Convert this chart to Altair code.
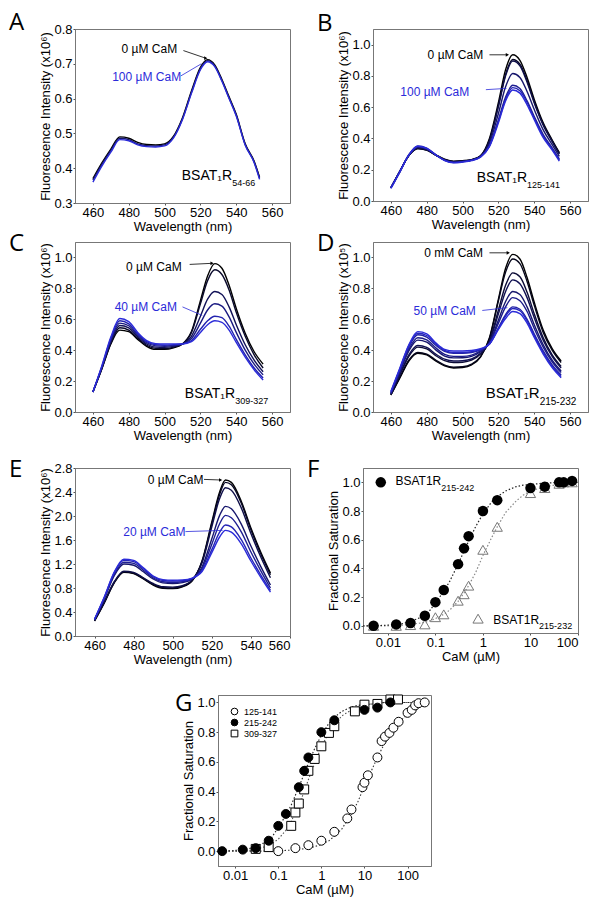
import altair as alt
import pandas as pd

FONT = "Liberation Sans"
LETTER_FONT = "Open Sans"
BLUE = "#2b2bd9"
PW = 215

# ---------------- data: spectra ----------------
A_wl = [460, 465, 470, 475, 480, 485, 490, 495, 500, 505, 510, 515, 520, 524, 528, 532, 536, 540, 545, 550, 553]
A_names = ["0 µM", "50 µM", "100 µM"]
A_vals = [
    [0.370, 0.415, 0.455, 0.490, 0.486, 0.474, 0.468, 0.467, 0.470, 0.492, 0.545, 0.622, 0.690, 0.712, 0.697, 0.655, 0.605, 0.555, 0.470, 0.420, 0.374],
    [0.366, 0.411, 0.451, 0.486, 0.482, 0.470, 0.465, 0.464, 0.467, 0.489, 0.542, 0.618, 0.686, 0.709, 0.694, 0.652, 0.602, 0.552, 0.468, 0.418, 0.372],
    [0.360, 0.406, 0.446, 0.482, 0.479, 0.467, 0.462, 0.461, 0.464, 0.487, 0.540, 0.615, 0.683, 0.706, 0.692, 0.650, 0.600, 0.550, 0.466, 0.416, 0.368],
]

B_wl = [460, 465, 470, 475, 480, 485, 490, 495, 500, 505, 510, 515, 520, 524, 528, 532, 536, 540, 545, 550, 554]
B_names = ["b0", "b1", "b2", "b3", "b4", "b5", "b6"]
B_vals = [
    [0.085, 0.19, 0.29, 0.335, 0.325, 0.295, 0.268, 0.255, 0.258, 0.265, 0.29, 0.40, 0.63, 0.84, 0.935, 0.90, 0.79, 0.65, 0.50, 0.39, 0.31],
    [0.085, 0.19, 0.29, 0.335, 0.325, 0.293, 0.265, 0.252, 0.255, 0.263, 0.288, 0.39, 0.61, 0.81, 0.905, 0.875, 0.77, 0.635, 0.49, 0.385, 0.305],
    [0.085, 0.19, 0.29, 0.338, 0.327, 0.293, 0.264, 0.251, 0.254, 0.262, 0.287, 0.385, 0.605, 0.80, 0.895, 0.865, 0.76, 0.627, 0.485, 0.38, 0.30],
    [0.085, 0.19, 0.292, 0.343, 0.331, 0.294, 0.262, 0.249, 0.253, 0.262, 0.285, 0.37, 0.56, 0.73, 0.815, 0.79, 0.70, 0.585, 0.455, 0.36, 0.285],
    [0.085, 0.19, 0.295, 0.348, 0.335, 0.296, 0.261, 0.247, 0.252, 0.261, 0.283, 0.355, 0.52, 0.665, 0.74, 0.72, 0.64, 0.54, 0.425, 0.34, 0.27],
    [0.085, 0.19, 0.296, 0.352, 0.338, 0.297, 0.26, 0.246, 0.251, 0.26, 0.282, 0.352, 0.51, 0.65, 0.725, 0.705, 0.63, 0.53, 0.415, 0.333, 0.262],
    [0.08, 0.185, 0.293, 0.35, 0.336, 0.295, 0.258, 0.244, 0.249, 0.258, 0.28, 0.348, 0.50, 0.64, 0.71, 0.69, 0.615, 0.52, 0.405, 0.325, 0.255],
]

C_wl = [460, 465, 470, 475, 480, 485, 490, 495, 500, 505, 510, 515, 520, 524, 528, 532, 536, 540, 545, 550, 555]
C_names = ["c0", "c1", "c2", "c3", "c4", "c5"]
C_vals = [
    [0.13, 0.28, 0.44, 0.53, 0.52, 0.47, 0.425, 0.405, 0.405, 0.415, 0.44, 0.52, 0.72, 0.88, 0.96, 0.93, 0.82, 0.67, 0.51, 0.39, 0.31],
    [0.13, 0.28, 0.445, 0.545, 0.53, 0.478, 0.432, 0.412, 0.41, 0.42, 0.44, 0.515, 0.70, 0.85, 0.92, 0.89, 0.79, 0.645, 0.49, 0.37, 0.285],
    [0.13, 0.285, 0.455, 0.56, 0.545, 0.488, 0.44, 0.42, 0.418, 0.425, 0.44, 0.49, 0.62, 0.73, 0.78, 0.76, 0.68, 0.565, 0.435, 0.335, 0.26],
    [0.13, 0.29, 0.465, 0.575, 0.558, 0.497, 0.448, 0.428, 0.425, 0.43, 0.44, 0.475, 0.575, 0.66, 0.70, 0.685, 0.615, 0.515, 0.40, 0.31, 0.24],
    [0.13, 0.295, 0.475, 0.59, 0.57, 0.505, 0.455, 0.435, 0.432, 0.435, 0.44, 0.462, 0.535, 0.59, 0.62, 0.61, 0.555, 0.47, 0.37, 0.285, 0.22],
    [0.13, 0.30, 0.485, 0.605, 0.585, 0.515, 0.462, 0.442, 0.44, 0.44, 0.44, 0.455, 0.515, 0.565, 0.59, 0.58, 0.53, 0.45, 0.355, 0.273, 0.207],
]

D_wl = [460, 465, 470, 475, 480, 485, 490, 495, 500, 505, 510, 515, 520, 524, 528, 532, 536, 540, 545, 550, 555]
D_names = ["d0", "d1", "d2", "d3", "d4", "d5", "d6", "d7", "d8"]
D_vals = [
    [0.11, 0.22, 0.33, 0.38, 0.37, 0.33, 0.298, 0.285, 0.288, 0.305, 0.355, 0.48, 0.73, 0.93, 1.02, 0.99, 0.87, 0.71, 0.53, 0.41, 0.33],
    [0.11, 0.225, 0.335, 0.385, 0.375, 0.336, 0.303, 0.29, 0.293, 0.31, 0.358, 0.475, 0.72, 0.905, 0.99, 0.96, 0.845, 0.69, 0.515, 0.40, 0.32],
    [0.115, 0.24, 0.36, 0.42, 0.408, 0.365, 0.332, 0.32, 0.322, 0.335, 0.375, 0.46, 0.66, 0.82, 0.90, 0.875, 0.775, 0.635, 0.48, 0.37, 0.295],
    [0.115, 0.245, 0.37, 0.43, 0.418, 0.375, 0.342, 0.33, 0.332, 0.343, 0.38, 0.455, 0.635, 0.78, 0.855, 0.83, 0.74, 0.61, 0.465, 0.36, 0.285],
    [0.12, 0.26, 0.395, 0.465, 0.452, 0.402, 0.362, 0.35, 0.351, 0.36, 0.39, 0.448, 0.595, 0.715, 0.78, 0.76, 0.68, 0.565, 0.435, 0.335, 0.265],
    [0.12, 0.265, 0.405, 0.48, 0.466, 0.415, 0.373, 0.36, 0.36, 0.368, 0.395, 0.445, 0.575, 0.68, 0.74, 0.72, 0.65, 0.54, 0.42, 0.325, 0.255],
    [0.125, 0.275, 0.42, 0.50, 0.485, 0.432, 0.392, 0.38, 0.38, 0.385, 0.402, 0.44, 0.545, 0.63, 0.68, 0.665, 0.60, 0.505, 0.395, 0.305, 0.24],
    [0.13, 0.28, 0.43, 0.51, 0.495, 0.44, 0.398, 0.385, 0.385, 0.39, 0.405, 0.44, 0.54, 0.62, 0.67, 0.655, 0.59, 0.495, 0.385, 0.295, 0.23],
    [0.135, 0.285, 0.435, 0.52, 0.505, 0.448, 0.405, 0.395, 0.395, 0.398, 0.41, 0.44, 0.535, 0.605, 0.65, 0.637, 0.575, 0.482, 0.375, 0.287, 0.222],
]

E_wl = [460, 465, 470, 475, 480, 485, 490, 495, 500, 505, 510, 515, 520, 524, 527, 530, 535, 540, 545, 550]
E_names = ["e0", "e1", "e2", "e3", "e4", "e5", "e6"]
E_vals = [
    [0.25, 0.55, 0.88, 1.06, 1.04, 0.95, 0.85, 0.795, 0.79, 0.82, 0.92, 1.25, 1.90, 2.40, 2.60, 2.56, 2.25, 1.80, 1.40, 1.05],
    [0.25, 0.56, 0.89, 1.07, 1.05, 0.96, 0.86, 0.805, 0.80, 0.83, 0.93, 1.24, 1.87, 2.36, 2.56, 2.52, 2.22, 1.77, 1.37, 1.02],
    [0.26, 0.57, 0.90, 1.08, 1.06, 0.97, 0.875, 0.82, 0.815, 0.84, 0.935, 1.22, 1.82, 2.29, 2.47, 2.43, 2.14, 1.71, 1.32, 0.97],
    [0.27, 0.62, 1.00, 1.20, 1.18, 1.07, 0.95, 0.885, 0.875, 0.89, 0.95, 1.15, 1.62, 2.01, 2.16, 2.12, 1.87, 1.50, 1.16, 0.85],
    [0.27, 0.63, 1.02, 1.23, 1.21, 1.095, 0.97, 0.905, 0.895, 0.905, 0.955, 1.12, 1.53, 1.87, 2.01, 1.97, 1.74, 1.40, 1.09, 0.80],
    [0.28, 0.645, 1.05, 1.26, 1.24, 1.12, 0.99, 0.925, 0.915, 0.92, 0.96, 1.09, 1.44, 1.73, 1.85, 1.82, 1.61, 1.30, 1.02, 0.76],
    [0.28, 0.65, 1.06, 1.28, 1.26, 1.135, 1.00, 0.94, 0.93, 0.935, 0.965, 1.075, 1.39, 1.65, 1.76, 1.73, 1.54, 1.25, 0.98, 0.73],
]

# ---------------- data: titrations ----------------
F_black_conc = [0.005, 0.015, 0.03, 0.06, 0.1, 0.15, 0.3, 0.4, 0.5, 1, 2, 10, 20, 40, 50, 75]
F_black_sat = [0.0, 0.01, 0.02, 0.07, 0.165, 0.25, 0.43, 0.54, 0.625, 0.80, 0.876, 0.96, 0.97, 1.0, 1.0, 1.01]
F_tri_conc = [0.005, 0.015, 0.03, 0.06, 0.1, 0.15, 0.3, 0.4, 0.5, 1, 2, 10, 20, 40, 50, 75]
F_tri_sat = [0.0, 0.0, 0.005, 0.01, 0.06, 0.08, 0.175, 0.22, 0.28, 0.53, 0.69, 0.925, 0.96, 0.99, 1.0, 1.0]
F_fit_x = [0.003, 0.005, 0.01, 0.02, 0.03, 0.05, 0.07, 0.1, 0.15, 0.2, 0.3, 0.4, 0.5, 0.7, 1, 1.5, 2, 3, 5, 7, 10, 20, 50, 100]
F_fit_black = [0.0, 0.0, 0.005, 0.015, 0.03, 0.06, 0.09, 0.16, 0.24, 0.31, 0.43, 0.52, 0.59, 0.69, 0.78, 0.86, 0.90, 0.94, 0.97, 0.98, 0.985, 0.995, 1.0, 1.0]
F_fit_tri = [0.0, 0.0, 0.0, 0.005, 0.01, 0.02, 0.03, 0.05, 0.08, 0.11, 0.17, 0.23, 0.28, 0.37, 0.49, 0.61, 0.69, 0.79, 0.87, 0.91, 0.94, 0.97, 0.99, 1.0]

G_125_conc = [0.1, 0.25, 0.5, 1, 2, 4, 5, 9, 10, 12, 20, 25, 30, 38, 47, 62, 100, 125, 150, 180, 250]
G_125_sat = [0.0, 0.02, 0.04, 0.07, 0.13, 0.22, 0.28, 0.43, 0.46, 0.51, 0.63, 0.74, 0.77, 0.795, 0.83, 0.87, 0.93, 0.95, 0.98, 0.995, 1.0]
G_215_conc = [0.005, 0.015, 0.03, 0.06, 0.1, 0.15, 0.3, 0.4, 0.5, 1, 2, 10, 20, 40]
G_215_sat = [0.0, 0.01, 0.02, 0.07, 0.17, 0.25, 0.43, 0.54, 0.63, 0.80, 0.88, 0.95, 0.965, 1.0]
G_309_conc = [0.03, 0.06, 0.2, 0.25, 0.3, 0.4, 0.5, 0.7, 1, 1.5, 2, 6, 10, 20, 40, 60]
G_309_sat = [0.015, 0.027, 0.17, 0.26, 0.32, 0.415, 0.54, 0.62, 0.705, 0.795, 0.84, 0.94, 0.985, 0.99, 1.02, 1.02]
G_fit_x = [0.004, 0.01, 0.02, 0.03, 0.05, 0.07, 0.1, 0.15, 0.2, 0.3, 0.4, 0.5, 0.7, 1, 1.5, 2, 3, 5, 7, 10, 15, 20, 30, 50, 70, 100, 150, 200, 300]
G_fit_215 = [0.0, 0.005, 0.015, 0.03, 0.06, 0.09, 0.16, 0.24, 0.31, 0.43, 0.52, 0.59, 0.69, 0.78, 0.86, 0.90, 0.94, 0.97, 0.98, 0.985, 0.99, 0.995, 1.0, 1.0, 1.0, 1.0, 1.0, 1.0, 1.0]
G_fit_309 = [0.0, 0.0, 0.005, 0.012, 0.03, 0.05, 0.08, 0.14, 0.20, 0.31, 0.40, 0.48, 0.59, 0.70, 0.80, 0.85, 0.91, 0.95, 0.97, 0.98, 0.99, 0.995, 1.0, 1.0, 1.0, 1.0, 1.0, 1.0, 1.0]
G_fit_125 = [0.0, 0.0, 0.0, 0.0, 0.0, 0.0, 0.003, 0.005, 0.007, 0.012, 0.016, 0.02, 0.03, 0.045, 0.07, 0.10, 0.15, 0.25, 0.33, 0.44, 0.55, 0.63, 0.73, 0.83, 0.88, 0.92, 0.955, 0.97, 0.985]
G_series = ["125-141", "215-242", "309-327"]


def ramp(n, end=(43, 43, 217)):
    out = []
    for i in range(n):
        f = i / (n - 1)
        out.append("#%02x%02x%02x" % tuple(int(round(e * f)) for e in end))
    return out


def long_df(wl, names, vals):
    rows = []
    for name, vs in zip(names, vals):
        for w, v in zip(wl, vs):
            rows.append({"wl": w, "v": v, "c": name})
    return pd.DataFrame(rows)


def txt(x, y, s, xf="wl", yf="v", color="black", size=12, align="center", baseline="middle"):
    d = pd.DataFrame({xf: [x], yf: [y], "t": [s]})
    return alt.Chart(d).mark_text(align=align, baseline=baseline, fontSize=size, color=color,
                                  font=FONT).encode(x=f"{xf}:Q", y=f"{yf}:Q", text="t:N")


def seg(x1, y1, x2, y2, color="black", arrow=False):
    d = pd.DataFrame({"wl": [x1], "v": [y1], "wl2": [x2], "v2": [y2]})
    r = alt.Chart(d).mark_rule(color=color, strokeWidth=0.8).encode(
        x="wl:Q", y="v:Q", x2="wl2:Q", y2="v2:Q")
    if arrow:
        a = alt.Chart(pd.DataFrame({"wl": [x2], "v": [y2]})).mark_point(
            shape="triangle-right", filled=True, color=color, size=14, opacity=1).encode(x="wl:Q", y="v:Q")
        return r + a
    return r


def letter(s, x, y):
    return alt.Chart(pd.DataFrame({"t": [s]})).mark_text(
        align="left", baseline="alphabetic", fontSize=24, font=LETTER_FONT, color="black").encode(
        x=alt.value(x), y=alt.value(y), text="t:N")


def yaxis(vals, title, fmt=".1f"):
    return alt.Axis(values=vals, format=fmt, title=title, labelOverlap=False, tickCount=30)


def spectra(wl, names, vals, xdom, ydom, yvals, ytitle, ann, lt, lty, H):
    df = long_df(wl, names, vals)
    xticks = [460, 480, 500, 520, 540, 560]
    lines = alt.Chart(df).mark_line(interpolate="monotone", strokeWidth=1.4).encode(
        x=alt.X("wl:Q", scale=alt.Scale(domain=xdom, nice=False, zero=False),
                axis=alt.Axis(values=xticks, title="Wavelength (nm)", format="d", labelOverlap=False, tickCount=30)),
        y=alt.Y("v:Q", scale=alt.Scale(domain=ydom, nice=False, zero=False), axis=yaxis(yvals, ytitle)),
        color=alt.Color("c:N", scale=alt.Scale(domain=names, range=ramp(len(names))), legend=None),
    )
    return alt.layer(lines, *ann, letter(lt, -66 if lt in "ACE" else -56, lty)).properties(width=PW, height=H)


def indep(c):
    return c.resolve_scale(color="independent", fill="independent", shape="independent",
                           stroke="independent").resolve_legend(
        color="independent", fill="independent", shape="independent", stroke="independent")


# ---------------- panels ----------------
pA = spectra(A_wl, A_names, A_vals, [450, 570], [0.3, 0.8], [0.3, 0.4, 0.5, 0.6, 0.7, 0.8],
             "Fluorescence Intensity (x10⁶)",
             [txt(491.5, 0.742, "0 µM CaM"), seg(510.5, 0.738, 523, 0.716, arrow=True),
              txt(490, 0.661, "100 µM CaM", color=BLUE), seg(509, 0.665, 520.5, 0.70, color=BLUE),
              txt(537.7, 0.377, "BSAT₁R", size=14, align="right"),
              txt(537.7, 0.357, "54-66", size=9, align="left")],
             "A", 1, 174)

pB = spectra(B_wl, B_names, B_vals, [450, 570], [0, 1.1], [0, 0.2, 0.4, 0.6, 0.8, 1.0],
             "Fluorescence Intensity (x10⁶)",
             [txt(496, 0.936, "0 µM CaM"), seg(515, 0.935, 525, 0.935, arrow=True),
              txt(484.5, 0.70, "100 µM CaM", color=BLUE), seg(513, 0.712, 524.5, 0.72, color=BLUE),
              txt(536, 0.145, "BSAT₁R", size=14, align="right"),
              txt(536, 0.10, "125-141", size=9, align="left")],
             "B", 2, 172)

pC = spectra(C_wl, C_names, C_vals, [450, 570], [0, 1.1], [0, 0.2, 0.4, 0.6, 0.8, 1.0],
             "Fluorescence Intensity (x10⁶)",
             [txt(494, 0.94, "0 µM CaM"), seg(514, 0.955, 526.5, 0.962, arrow=True),
              txt(489.5, 0.68, "40 µM CaM", color=BLUE), seg(510, 0.68, 521, 0.625, color=BLUE),
              txt(539.4, 0.119, "BSAT₁R", size=14, align="right"),
              txt(539.4, 0.07, "309-327", size=9, align="left")],
             "C", 9, 170)

pD = spectra(D_wl, D_names, D_vals, [450, 570], [0, 1.1], [0, 0.2, 0.4, 0.6, 0.8, 1.0],
             "Fluorescence Intensity (x10⁵)",
             [txt(495, 1.026, "0 mM CaM"), seg(515, 1.03, 525.5, 1.03, arrow=True),
              txt(490, 0.652, "50 µM CaM", color=BLUE), seg(511, 0.657, 525, 0.675, color=BLUE),
              txt(543, 0.12, "BSAT₁R", size=15, align="right"),
              txt(543, 0.065, "215-232", size=10, align="left")],
             "D", 9, 170)

pE = spectra(E_wl, E_names, E_vals, [450, 560], [0, 2.8], [0, 0.4, 0.8, 1.2, 1.6, 2.0, 2.4, 2.8],
             "Fluorescence Intensity (x10⁶)",
             [txt(501.5, 2.605, "0 µM CaM"), seg(516, 2.61, 524.5, 2.60, arrow=True),
              txt(490.6, 1.74, "20 µM CaM", color=BLUE), seg(506.5, 1.74, 525.5, 1.76, color=BLUE)],
             "E", 9, 168)

# ---- F ----
logticks = [0.01, 0.1, 1, 10, 100]
sat_ticks = [0, 0.2, 0.4, 0.6, 0.8, 1.0]
fx_scale = alt.Scale(type="log", domain=[0.003, 100], nice=False)
fy_scale = alt.Scale(domain=[-0.05, 1.1], nice=False, zero=False)
fX = alt.X("c:Q", scale=fx_scale, axis=alt.Axis(values=logticks, format="~g", title="CaM (µM)",
                                                 labelOverlap=False, tickCount=30))
f_fit = pd.DataFrame({"c": F_fit_x, "s1": F_fit_black, "s2": F_fit_tri})
fit_tri = alt.Chart(f_fit).mark_line(color="#888888", strokeDash=[1.5, 2], strokeWidth=1.2).encode(
    x=fX, y=alt.Y("s2:Q", scale=fy_scale, axis=yaxis(sat_ticks, "Fractional Saturation")))
fit_blk = alt.Chart(f_fit).mark_line(color="#222222", strokeDash=[1.5, 2], strokeWidth=1.2).encode(x="c:Q", y="s1:Q")
tri = alt.Chart(pd.DataFrame({"c": F_tri_conc, "s": F_tri_sat})).mark_point(
    shape="triangle-up", size=105, color="#777777", strokeWidth=1, opacity=1).encode(x="c:Q", y="s:Q")
blk = alt.Chart(pd.DataFrame({"c": F_black_conc, "s": F_black_sat})).mark_point(
    shape="circle", size=110, filled=True, color="black", opacity=1).encode(x="c:Q", y="s:Q")
f_leg1 = alt.Chart(pd.DataFrame({"c": [0.0071], "s": [1.0]})).mark_point(
    shape="circle", size=110, filled=True, color="black", opacity=1).encode(x="c:Q", y="s:Q")
f_leg2 = alt.Chart(pd.DataFrame({"c": [0.79], "s": [0.05]})).mark_point(
    shape="triangle-up", size=105, color="#777777", strokeWidth=1, opacity=1).encode(x="c:Q", y="s:Q")
pF = alt.layer(
    fit_tri, fit_blk, tri, blk, f_leg1, f_leg2,
    txt(0.133, 1.007, "BSAT1R", xf="c", yf="s", align="right"),
    txt(0.133, 0.958, "215-242", xf="c", yf="s", size=9, align="left"),
    txt(15.2, 0.042, "BSAT1R", xf="c", yf="s", align="right"),
    txt(15.2, 0.0, "215-232", xf="c", yf="s", size=9, align="left"),
    letter("F", -56, 9),
).properties(width=PW, height=165)

# ---- G ----
gx_scale = alt.Scale(type="log", domain=[0.004, 350], nice=False)
gy_scale = alt.Scale(domain=[-0.1, 1.05], nice=False, zero=False)
gX = alt.X("c:Q", scale=gx_scale, axis=alt.Axis(values=logticks, format="~g", title="CaM (µM)",
                                                 labelOverlap=False, tickCount=30))
g_fit = pd.DataFrame({"c": G_fit_x, "a": G_fit_125, "b": G_fit_215, "d": G_fit_309})
gf1 = alt.Chart(g_fit).mark_line(color="#333333", strokeDash=[1.5, 2], strokeWidth=1.1).encode(
    x=gX, y=alt.Y("a:Q", scale=gy_scale, axis=yaxis(sat_ticks, "Fractional Saturation")))
gf2 = alt.Chart(g_fit).mark_line(color="#222222", strokeDash=[1.5, 2], strokeWidth=1.1).encode(x="c:Q", y="b:Q")
gf3 = alt.Chart(g_fit).mark_line(color="#555555", strokeDash=[1.5, 2], strokeWidth=1.1).encode(x="c:Q", y="d:Q")
gpts = pd.concat([
    pd.DataFrame({"c": G_125_conc, "s": G_125_sat, "series": G_series[0]}),
    pd.DataFrame({"c": G_309_conc, "s": G_309_sat, "series": G_series[2]}),
    pd.DataFrame({"c": G_215_conc, "s": G_215_sat, "series": G_series[1]}),
])
gleg = alt.Legend(orient="top-left", title=None, offset=12, padding=0, labelFontSize=9, labelFont=FONT,
                  symbolSize=45, rowPadding=0, symbolStrokeWidth=1, labelOffset=5)
gp = alt.Chart(gpts).mark_point(size=80, strokeWidth=1, opacity=1, fillOpacity=1).encode(
    x="c:Q", y="s:Q",
    fill=alt.Fill("series:N", scale=alt.Scale(domain=G_series, range=["white", "black", "white"]), legend=gleg),
    stroke=alt.Stroke("series:N", scale=alt.Scale(domain=G_series, range=["black", "black", "black"]), legend=gleg),
    shape=alt.Shape("series:N", scale=alt.Scale(domain=G_series, range=["circle", "circle", "square"]), legend=gleg),
)
pG = alt.layer(gf1, gf2, gf3, gp, letter("G", -43, 16)).properties(width=213, height=171)

spacer = alt.Chart(pd.DataFrame({"a": [0]})).mark_point(opacity=0).encode(
    x=alt.value(0), y=alt.value(0)).properties(width=59, height=10, view=alt.ViewBackground(stroke=None))

row1 = indep(alt.hconcat(pA, pB, spacing=25))
row2 = indep(alt.hconcat(pC, pD, spacing=25))
row3 = indep(alt.hconcat(pE, pF, spacing=15))
row4 = indep(alt.hconcat(spacer, pG, spacing=40))

top2 = indep(alt.vconcat(row1, row2, spacing=-3))
top3 = indep(alt.vconcat(top2, row3, spacing=14))
chart = indep(alt.vconcat(top3, row4, spacing=24))

chart = chart.properties(padding={"top": 2, "left": 0, "right": 0, "bottom": 0}).configure_view(
    stroke="#777777", strokeWidth=1).configure_axis(
    grid=False, labelFont=FONT, titleFont=FONT, labelFontSize=13, titleFontSize=13,
    titleFontWeight="normal", labelColor="black", titleColor="black", tickSize=2, tickColor="#555555",
    domainColor="#777777", labelPadding=1, titlePadding=1, labelOverlap=False
)

chart.save("out.html", embed_options={"renderer": "svg", "actions": False})
